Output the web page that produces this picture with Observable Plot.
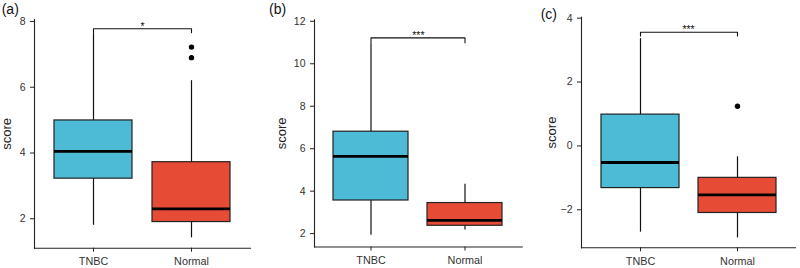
<!DOCTYPE html>
<html>
<head>
<meta charset="utf-8">
<script src="https://cdn.jsdelivr.net/npm/d3@7"></script>
<script src="https://cdn.jsdelivr.net/npm/@observablehq/plot@0.6"></script>
<style>
  html, body { margin: 0; padding: 0; background: #fff; }
  #wrap { position: relative; width: 800px; height: 268px; overflow: hidden; font-family: "Liberation Sans", Arial, sans-serif; }
  .panel { position: absolute; top: 0; }
  .tag { position: absolute; font-size: 14px; line-height: 1; color: #111; font-family: "Liberation Sans", Arial, sans-serif; }
</style>
</head>
<body>
<div id="wrap"></div>
<script>
// ---- data ----
const groups = ["TNBC", "Normal"];
const panelLabels = ["(a)", "(b)", "(c)"];
const yLabel = "score";
const lower   = [[1.80, 1.42], [1.92, 2.17], [-2.70, -2.88]];
const q1      = [[3.22, 1.90], [3.56, 2.37], [-1.32, -2.10]];
const median  = [[4.05, 2.30], [5.64, 2.62], [-0.52, -1.53]];
const q3      = [[4.99, 3.72], [6.80, 3.44], [0.98, -1.00]];
const upper   = [[7.63, 6.20], [10.94, 4.33], [3.36, -0.34]];
const outliers = [[[], [6.90, 7.22]], [[], []], [[], [1.24]]];
const significance = ["*", "***", "***"];
const bracketTop = [7.78, 11.22, 3.56];
const bracketEnd = [7.66, 10.99, 3.44];
const yTicks = [[2, 4, 6, 8], [2, 4, 6, 8, 10, 12], [-2, 0, 2, 4]];

// ---- layout ----
const colors = ["#4DBBD5", "#E64B35"];
const layout = [
  {left: 0,   width: 265, ml: 34, mr: 15,  mt: 19,   mb: 20.3, domain: [1.105, 8.06], labelOffset: 32.6, tag: [1.7, 1.7]},
  {left: 265, width: 265, ml: 49, mr: 8.3, mt: 19.3, mb: 21.5, domain: [1.37, 12.07], labelOffset: 38.2, tag: [269, 1.7]},
  {left: 530, width: 270, ml: 51, mr: 5,   mt: 16.7, mb: 20.7, domain: [-3.19, 4.03], labelOffset: 35.2, tag: [540.7, 6.7]}
];

const wrap = document.getElementById("wrap");

layout.forEach((L, p) => {
  const stats = groups.map((g, i) => ({
    group: g, lo: lower[p][i], q1: q1[p][i], med: median[p][i], q3: q3[p][i], hi: upper[p][i]
  }));
  const outs = groups.flatMap((g, i) => outliers[p][i].map(v => ({group: g, value: v})));
  const bracket = [
    {group: groups[0], y: bracketEnd[p]},
    {group: groups[0], y: bracketTop[p]},
    {group: groups[1], y: bracketTop[p]},
    {group: groups[1], y: bracketEnd[p]}
  ];

  const chart = Plot.plot({
    width: L.width,
    height: 268,
    marginLeft: L.ml,
    marginRight: L.mr,
    marginTop: L.mt,
    marginBottom: L.mb,
    style: {fontFamily: '"Liberation Sans", Arial, sans-serif', background: "transparent", overflow: "visible"},
    x: {domain: groups, paddingInner: 0.2, paddingOuter: 0.2, align: 0.5},
    y: {domain: L.domain},
    color: {domain: groups, range: colors},
    marks: [
      Plot.frame({anchor: "left", stroke: "#222", strokeWidth: 1.1}),
      Plot.frame({anchor: "bottom", stroke: "#222", strokeWidth: 1.1}),
      Plot.axisY({
        ticks: yTicks[p], tickFormat: d3.format("~g"), tickSize: 4, tickPadding: 5, fontSize: 10.5,
        color: "#333", stroke: "#222", label: null
      }),
      Plot.axisY({ticks: [], label: yLabel, labelAnchor: "center", labelArrow: "none", labelOffset: L.labelOffset, fontSize: 13, fill: "#222", tickSize: 0}),
      Plot.axisX({tickSize: 4, tickPadding: 5.5, fontSize: 10.8, color: "#333", stroke: "#222", label: null}),
      Plot.ruleX(stats, {x: "group", y1: "lo", y2: "hi", stroke: "#111", strokeWidth: 1.2}),
      Plot.barY(stats, {x: "group", y1: "q1", y2: "q3", fill: "group", stroke: "#222", strokeWidth: 1.2}),
      Plot.tickY(stats, {x: "group", y: "med", stroke: "#000", strokeWidth: 2.8}),
      Plot.dot(outs, {x: "group", y: "value", r: 2.7, fill: "#000", stroke: null}),
      Plot.line(bracket, {x: "group", y: "y", stroke: "#111", strokeWidth: 1.1}),
      Plot.text([significance[p]], {text: d => d, y: () => bracketTop[p], fontSize: 10.5, fill: "#111", dy: -2.5})
    ]
  });
  chart.classList.add("panel");
  chart.style.left = L.left + "px";
  wrap.appendChild(chart);

  const tag = document.createElement("div");
  tag.className = "tag";
  tag.textContent = panelLabels[p];
  tag.style.left = L.tag[0] + "px";
  tag.style.top = L.tag[1] + "px";
  wrap.appendChild(tag);
});
</script>
</body>
</html>
